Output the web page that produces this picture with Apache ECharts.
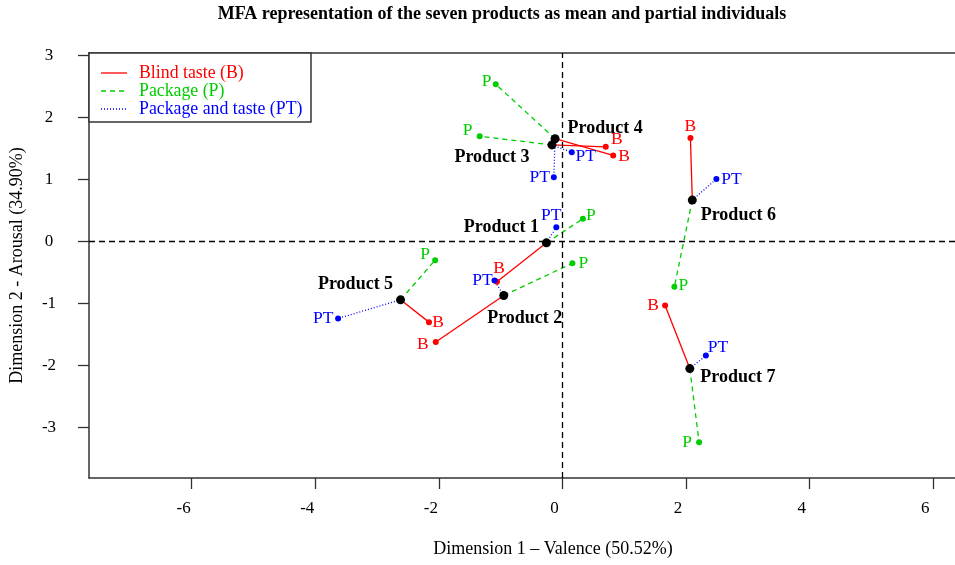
<!DOCTYPE html>
<html>
<head>
<meta charset="utf-8">
<title>MFA representation</title>
<script src="https://cdn.jsdelivr.net/npm/echarts@6/dist/echarts.min.js"></script>
<style>
  html, body { margin: 0; padding: 0; background: #ffffff; }
  #chart { width: 955px; height: 565px; }
</style>
</head>
<body>
<div id="chart"></div>
<script>
// Seven products: mean position and the three partial individuals (one per condition)
const products = ['Product 1', 'Product 2', 'Product 3', 'Product 4', 'Product 5', 'Product 6', 'Product 7'];
const meanX  = [-0.26, -0.95, -0.17, -0.12, -2.62, 2.10, 2.06];
const meanY  = [-0.02, -0.87, 1.56, 1.66, -0.94, 0.67, -2.05];
const blindX = [-1.06, -2.05, 0.70, 0.82, -2.16, 2.07, 1.66];
const blindY = [-0.65, -1.62, 1.53, 1.39, -1.30, 1.67, -1.03];
const packX  = [0.33, 0.16, -1.34, -1.08, -2.06, 1.81, 2.21];
const packY  = [0.37, -0.35, 1.70, 2.54, -0.30, -0.73, -3.24];
const ptX    = [-0.10, -1.10, 0.15, -0.14, -3.63, 2.49, 2.32];
const ptY    = [0.23, -0.63, 1.44, 1.04, -1.24, 1.01, -1.84];
const xTicks = [-6, -4, -2, 0, 2, 4, 6];
const yTicks = [-3, -2, -1, 0, 1, 2, 3];

// Label placement (pixel offsets from each point)
const productLabelOffset = [[-45, -15], [21, 23], [-60, 12], [50, -10], [-45, -15], [46, 15], [48, 9]];
const blindLabelOffset   = [[2, -13], [-13, 2], [11, -7], [11, 1], [9, 0], [0, -12], [-12, 0]];
const packLabelOffset    = [[8, -3], [11, 0], [-12, -6], [-9, -3], [-10, -6], [9, -1], [-12, 0]];
const ptLabelOffset      = [[-5, -12], [-12, 0], [14, 4], [-14, 0], [-15, 0], [15, 0], [12, -8]];

const FONT = 'Liberation Serif';
const RED = '#ff0000', GREEN = '#00cd00', BLUE = '#0000ff';
const FRAME = '#333333';

const groups = [
  { name: 'Blind taste (B)', tag: 'B', xs: blindX, ys: blindY, color: RED, dash: 'solid', offs: blindLabelOffset },
  { name: 'Package (P)', tag: 'P', xs: packX, ys: packY, color: GREEN, dash: [5, 4], offs: packLabelOffset },
  { name: 'Package and taste (PT)', tag: 'PT', xs: ptX, ys: ptY, color: BLUE, dash: [1, 2], offs: ptLabelOffset }
];

const series = [];

// Segments joining each mean point to its partial points
groups.forEach(g => {
  series.push({
    type: 'lines',
    coordinateSystem: 'cartesian2d',
    silent: true,
    z: 2,
    lineStyle: { color: g.color, width: 1.3, type: g.dash, opacity: 1 },
    data: products.map((p, i) => ({ coords: [[meanX[i], meanY[i]], [g.xs[i], g.ys[i]]] }))
  });
});

// Partial points with their condition tags
groups.forEach(g => {
  series.push({
    type: 'scatter',
    name: g.name,
    silent: true,
    z: 3,
    symbolSize: 6,
    itemStyle: { color: g.color, opacity: 1 },
    data: products.map((p, i) => ({
      value: [g.xs[i], g.ys[i]],
      label: {
        show: true,
        position: 'inside',
        offset: g.offs[i],
        formatter: g.tag,
        color: g.color,
        textBorderWidth: 0,
        fontFamily: FONT,
        fontSize: 17.5
      }
    }))
  });
});

// Mean points, plus the dashed reference lines through the origin
series.push({
  type: 'scatter',
  name: 'Mean',
  silent: true,
  z: 4,
  symbolSize: 9,
  itemStyle: { color: '#000000', opacity: 1 },
  data: products.map((p, i) => ({
    value: [meanX[i], meanY[i]],
    label: {
      show: true,
      position: 'inside',
      offset: productLabelOffset[i],
      formatter: p,
      color: '#000000',
      textBorderWidth: 0,
      fontFamily: FONT,
      fontWeight: 'bold',
      fontSize: 18
    }
  })),
  markLine: {
    silent: true,
    symbol: 'none',
    animation: false,
    label: { show: false },
    lineStyle: { color: '#000000', width: 1.3, type: [6, 4], opacity: 1 },
    data: [{ xAxis: 0 }, { yAxis: 0 }]
  }
});

// Legend box drawn in the upper-left corner of the plot
const legendItems = [
  { type: 'rect', z: 100, shape: { x: 89, y: 53, width: 222, height: 69 },
    style: { fill: '#ffffff', stroke: FRAME, lineWidth: 1.5 } }
];
groups.forEach((g, k) => {
  const y = 73 + k * 18;
  legendItems.push({ type: 'line', z: 101, shape: { x1: 101, y1: y, x2: 127, y2: y },
    style: { stroke: g.color, lineWidth: 1.3, lineDash: g.dash === 'solid' ? null : g.dash } });
  legendItems.push({ type: 'text', z: 101, x: 139, y: y,
    style: { text: g.name, fill: g.color, fontFamily: FONT, fontSize: 17.8, verticalAlign: 'middle', align: 'left' } });
});

const axisText = { fontFamily: FONT, fontSize: 17, color: '#000000' };

const chart = echarts.init(document.getElementById('chart'), null, { renderer: 'canvas' });
chart.setOption({
  animation: false,
  backgroundColor: '#ffffff',
  title: {
    text: 'MFA representation of the seven products as mean and partial individuals',
    left: 497,
    top: 0,
    textAlign: 'center',
    textStyle: { fontFamily: FONT, fontWeight: 'bold', fontSize: 18, color: '#000000' }
  },
  grid: { left: 89, top: 53, right: 0, bottom: 87, show: false },
  xAxis: [{
    type: 'value',
    min: -7.66, max: 6.35,
    name: 'Dimension 1 \u2013 Valence (50.52%)',
    nameLocation: 'middle',
    nameGap: 62,
    nameTextStyle: { fontFamily: FONT, fontSize: 18, color: '#000000', padding: [0, 0, 0, 62] },
    axisLine: { show: true, onZero: false, lineStyle: { color: FRAME, width: 1.5 } },
    axisTick: { show: true, inside: false, length: 11, customValues: xTicks, lineStyle: { color: FRAME, width: 1.3 } },
    axisLabel: Object.assign({ customValues: xTicks, margin: 22, padding: [0, 16, 0, 0] }, axisText),
    splitLine: { show: false }
  }, {
    // top edge of the plot frame
    type: 'value',
    position: 'top',
    min: -7.66, max: 6.35,
    axisLine: { show: true, onZero: false, lineStyle: { color: FRAME, width: 1.5 } },
    axisTick: { show: false },
    axisLabel: { show: false },
    splitLine: { show: false }
  }],
  yAxis: {
    type: 'value',
    min: -3.816, max: 3.044,
    name: 'Dimension 2 - Arousal (34.90%)',
    nameLocation: 'middle',
    nameGap: 63,
    nameTextStyle: { fontFamily: FONT, fontSize: 18, color: '#000000' },
    axisLine: { show: true, onZero: false, lineStyle: { color: FRAME, width: 1.5 } },
    axisTick: { show: true, inside: false, length: 11, customValues: yTicks, lineStyle: { color: FRAME, width: 1.3 } },
    axisLabel: Object.assign({ customValues: yTicks, margin: 40, align: 'center' }, axisText),
    splitLine: { show: false }
  },
  graphic: legendItems,
  series: series
});
</script>
</body>
</html>
